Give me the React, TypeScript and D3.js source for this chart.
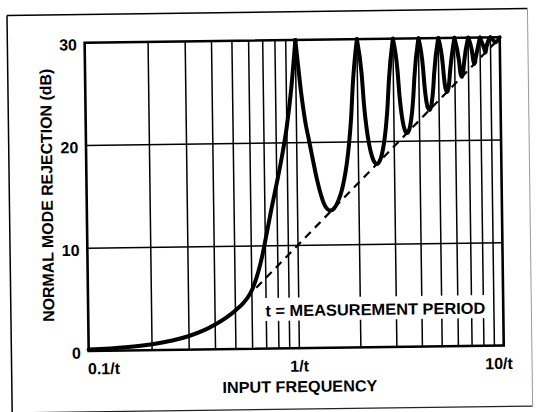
import React from 'react';
import * as d3 from 'd3';

// Normal mode rejection curve (frequency in 1/t, rejection in dB).
// Peaks (30 dB, the top of the chart) fall at 1/t, 2/t ... 10/t.
const freqs = [
  0.1, 0.15, 0.2, 0.25, 0.3, 0.35, 0.4, 0.45, 0.5, 0.55, 0.575, 0.6, 0.625, 0.65, 0.675, 0.7, 0.75, 0.8, 0.85, 0.9, 0.95, 1.0,
  1.03, 1.06, 1.1, 1.16, 1.2, 1.25, 1.3, 1.35, 1.4, 1.45, 1.5, 1.55, 1.6, 1.65, 1.7, 1.75, 1.8, 1.85, 1.9, 2.0,
  2.1, 2.15, 2.2, 2.25, 2.3, 2.35, 2.4, 2.45, 2.5, 2.55, 2.6, 2.65, 2.7, 2.75, 2.8, 2.85, 3.0,
  3.15, 3.2, 3.25, 3.3, 3.4, 3.45, 3.5, 3.55, 3.6, 3.7, 3.75, 3.8, 4.0,
  4.2, 4.25, 4.3, 4.4, 4.5, 4.6, 4.7, 4.75, 5.0,
  5.25, 5.3, 5.4, 5.5, 5.6, 5.7, 6.0,
  6.3, 6.4, 6.5, 6.6, 6.65, 7.0,
  7.35, 7.4, 7.5, 7.6, 8.0,
  8.4, 8.5, 8.6, 9.0,
  9.45, 9.5, 10.0,
];
const rejectionDb = [
  0.14, 0.32, 0.58, 0.91, 1.33, 1.83, 2.42, 3.05, 3.75, 4.55, 5.05, 5.7, 6.6, 7.7, 9.0, 10.5, 13.5, 16.1, 18.7, 21.6, 25.3, 30,
  27.3, 24.8, 22.3, 19.8, 18.2, 16.4, 15.0, 14.0, 13.5, 13.35, 13.5, 13.9, 14.5, 15.3, 16.4, 17.8, 19.66, 22.15, 25.72, 30,
  26.59, 23.45, 21.41, 20.0, 19.02, 18.37, 17.98, 17.83, 17.9, 18.18, 18.68, 19.41, 20.41, 21.74, 23.5, 25.9, 30,
  26.77, 24.66, 23.19, 22.15, 21.01, 20.81, 20.82, 21.05, 21.5, 23.15, 24.43, 26.15, 30,
  27.02, 25.52, 24.45, 23.25, 23.01, 23.63, 25.23, 26.49, 30,
  27.36, 26.27, 25.03, 24.75, 25.34, 26.9, 30,
  27.77, 26.5, 26.2, 26.77, 27.4, 30,
  28.27, 27.76, 27.44, 27.99, 30,
  28.86, 28.53, 29.07, 30,
  29.56, 29.5, 30,
];
const peakDb = 30;

// Dashed asymptote
const asymptoteFreq = [0.63, 10];
const asymptoteDb = [5.93, 29.94];

const yTicks = [0, 10, 20, 30];
const yGrid = [10, 20];
const xGrid = [0.2, 0.3, 0.4, 0.5, 0.6, 0.7, 0.8, 0.9, 1, 2, 3, 4, 5, 6, 7, 8, 9];
const xTickValues = [0.1, 1, 10];
const xTickLabels = ['0.1/t', '1/t', '10/t'];

const yTitle = 'NORMAL MODE REJECTION (dB)';
const xTitle = 'INPUT FREQUENCY';
const note = 't = MEASUREMENT PERIOD';

export default function App() {
  const W = 536;
  const H = 412;
  const left = 86.8;
  const right = 501.9;
  const top = 40.3;
  const bottom = 348.6;

  const x = d3.scaleLog().domain([0.1, 1, 10]).range([left, 297.5, right]);
  const y = d3.scaleLinear().domain([0, 30]).range([bottom, top]);

  // split the curve into lobes at each peak so the peaks stay pointed
  const lobes: [number, number][][] = [];
  let cur: [number, number][] = [];
  freqs.forEach((f, i) => {
    cur.push([f, rejectionDb[i]]);
    if (rejectionDb[i] >= peakDb && cur.length > 1) {
      lobes.push(cur);
      cur = [[f, rejectionDb[i]]];
    }
  });
  if (cur.length > 1) lobes.push(cur);

  const lineGen = d3
    .line<[number, number]>()
    .x((d) => x(d[0]))
    .y((d) => y(d[1]))
    .curve(d3.curveMonotoneX);

  const asym = d3
    .line<number>()
    .x((_, i) => x(asymptoteFreq[i]))
    .y((d) => y(d))(asymptoteDb) as string;

  const font = '"Liberation Sans", Arial, Helvetica, sans-serif';

  return (
    <svg
      width={W}
      height={H}
      style={{ position: 'absolute', left: 0, top: 0, display: 'block', background: '#fff' }}
      fontFamily={font}
      fontWeight="bold"
    >
      <rect x={0} y={0} width={W} height={H} fill="#fff" />
      <g transform="rotate(-0.75 268 206)">
        {/* outer frame */}
        <line x1={9.5} x2={530} y1={12} y2={12} stroke="#000" strokeWidth={1.5} />
        <line x1={9.5} x2={9.5} y1={12} y2={410} stroke="#000" strokeWidth={1.5} />
        <line x1={9.5} x2={530} y1={409.5} y2={409.5} stroke="#222" strokeWidth={1.2} />
        <line x1={530} x2={530} y1={12} y2={410} stroke="#999" strokeWidth={1} />

        {/* grid */}
        {xGrid.map((f) => (
          <line key={'gx' + f} x1={x(f)} x2={x(f)} y1={top} y2={bottom} stroke="#000" strokeWidth={1.5} />
        ))}
        {yGrid.map((v) => (
          <line key={'gy' + v} x1={left} x2={right} y1={y(v)} y2={y(v)} stroke="#000" strokeWidth={1.5} />
        ))}

        {/* note with white background */}
        <rect x={262} y={298} width={226} height={23} fill="#fff" />
        <text x={374} y={316.4} fontSize={16} textAnchor="middle" textLength={220} lengthAdjust="spacingAndGlyphs">
          {note}
        </text>

        {/* plot frame */}
        <rect x={left} y={top} width={right - left} height={bottom - top} fill="none" stroke="#000" strokeWidth={2.6} />

        {/* asymptote */}
        <path d={asym} fill="none" stroke="#000" strokeWidth={2.2} strokeDasharray="8,6" />

        {/* curve */}
        {lobes.map((seg, i) => (
          <path
            key={'lobe' + i}
            d={lineGen(seg) as string}
            fill="none"
            stroke="#000"
            strokeWidth={4}
            strokeLinejoin="round"
            strokeLinecap="round"
          />
        ))}

        {/* y tick labels */}
        {yTicks.map((v) => (
          <text key={'yt' + v} x={79} y={y(v) + 7.5} fontSize={16} textAnchor="end">
            {v}
          </text>
        ))}

        {/* x tick labels */}
        {xTickValues.map((f, i) => (
          <text
            key={'xt' + f}
            x={i === 0 ? x(f) - 1 : i === 2 ? x(f) - 5 : x(f)}
            y={372}
            fontSize={16}
            textAnchor={i === 0 ? 'start' : 'middle'}
          >
            {xTickLabels[i]}
          </text>
        ))}

        {/* axis titles */}
        <text x={297.5} y={392.5} fontSize={16} textAnchor="middle" textLength={155} lengthAdjust="spacingAndGlyphs">
          {xTitle}
        </text>
        <text
          transform={`translate(52.8,${(top + bottom) / 2 - 2}) rotate(-90)`}
          fontSize={16}
          textAnchor="middle"
          textLength={253}
          lengthAdjust="spacingAndGlyphs"
        >
          {yTitle}
        </text>
      </g>
    </svg>
  );
}
